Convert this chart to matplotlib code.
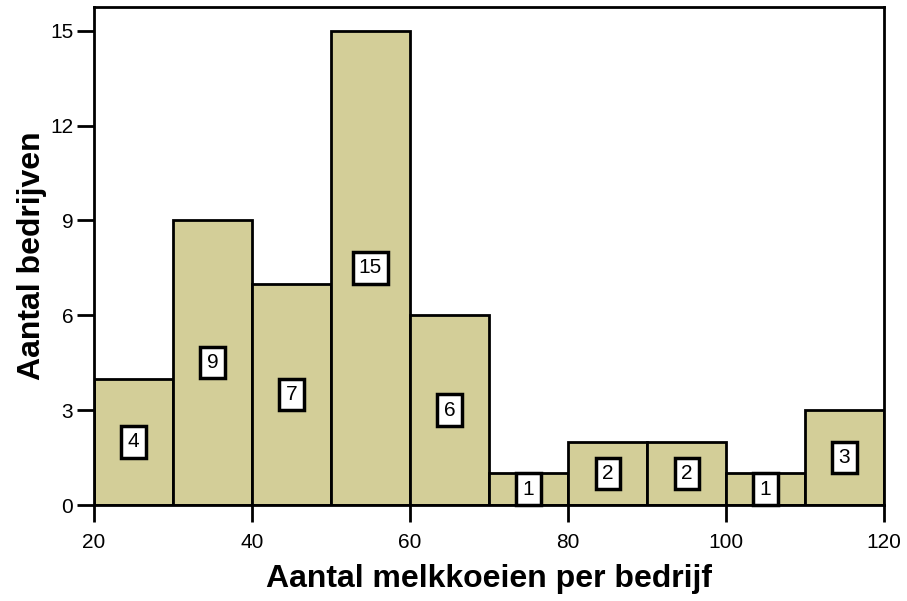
import numpy as np
import matplotlib.pyplot as plt

plt.rcParams['font.family'] = ['Liberation Sans', 'DejaVu Sans']

bin_edges = [20, 30, 40, 50, 60, 70, 80, 90, 100, 110, 120]
counts = [4, 9, 7, 15, 6, 1, 2, 2, 1, 3]

fig = plt.figure(figsize=(9.07, 6.01), dpi=100)
ax = fig.add_axes([0.1036, 0.1597, 0.8711, 0.8287])

lefts = np.array(bin_edges[:-1])
widths = np.diff(bin_edges)
ax.bar(lefts, counts, width=widths, align='edge', color='#D3CE98',
       edgecolor='black', linewidth=2)

for x, w, c in zip(lefts, widths, counts):
    ax.text(x + w / 2, c / 2, str(c), ha='center', va='center', fontsize=15,
            bbox=dict(boxstyle='square,pad=0.3', fc='white', ec='black', lw=2.5))

ax.set_xlim(20, 120)
ax.set_ylim(0, 15.75)
ax.set_xticks([20, 40, 60, 80, 100, 120])
ax.set_yticks([0, 3, 6, 9, 12, 15])
ax.tick_params(direction='out', length=12, width=2, labelsize=15)
ax.tick_params(axis='x', pad=8)
ax.tick_params(axis='y', pad=3)
for s in ax.spines.values():
    s.set_linewidth(2)

ax.set_xlabel('Aantal melkkoeien per bedrijf', fontsize=23, fontweight='bold', labelpad=9)
ax.set_ylabel('Aantal bedrijven', fontsize=23, fontweight='bold', labelpad=2)

fig.savefig('out.png', dpi=100)
